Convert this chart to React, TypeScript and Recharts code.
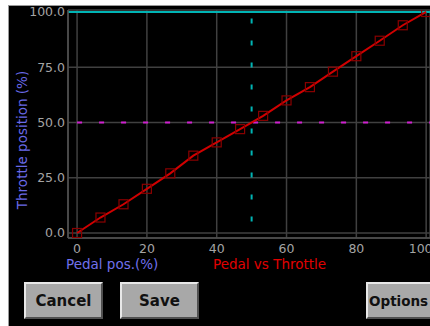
import { LineChart, Line, XAxis, YAxis, CartesianGrid, ReferenceLine } from 'recharts';

const pedal = [0, 6.7, 13.3, 20, 26.7, 33.3, 40, 46.7, 53.3, 60, 66.7, 73.3, 80, 86.7, 93.3, 100];
const throttle = [0, 7, 13, 20, 27, 35, 41, 47, 53, 60, 66, 73, 80, 87, 94, 100];
const xTicks = [0, 20, 40, 60, 80, 100];
const yTicks = [0, 25, 50, 75, 100];

const data = pedal.map((p, i) => ({ pedal: p, throttle: throttle[i] }));

const tickStyle = { fill: '#a4a4a4', fontSize: 12.5, fontFamily: 'DejaVu Sans' };

const SquareDot = (props: any) => {
  const { cx, cy } = props;
  if (cx == null || cy == null) return null;
  return <rect x={cx - 4.5} y={cy - 4.5} width={9} height={9} fill='none' stroke='#8a0000' strokeWidth={1.2} />;
};

const buttonStyle = (left: number, width: number, fontSize: number): React.CSSProperties => ({
  position: 'absolute',
  left,
  top: 282,
  width,
  height: 37,
  boxSizing: 'border-box',
  background: '#a8a8a8',
  borderTop: '2px solid #e8e8e8',
  borderLeft: '2px solid #e8e8e8',
  borderRight: '2px solid #505050',
  borderBottom: '2px solid #505050',
  color: '#111',
  fontFamily: 'DejaVu Sans',
  fontWeight: 'bold',
  fontSize,
  display: 'flex',
  alignItems: 'center',
  justifyContent: 'center',
});

const App = () => {
  return (
    <div style={{ position: 'fixed', left: 0, top: 0, width: 430, height: 326, background: '#fff', overflow: 'hidden' }}>
      <div
        style={{
          position: 'absolute',
          left: 8,
          top: 5,
          width: 422,
          height: 321,
          background: '#000',
          borderTop: '1px solid #9a9a9a',
          borderLeft: '1px solid #9a9a9a',
        }}
      />
      <div style={{ position: 'absolute', left: 0, top: 0 }}>
        <LineChart width={430} height={326} data={data} margin={{ top: 10, right: 0, left: 8, bottom: 0 }}>
          <CartesianGrid stroke='#404040' strokeWidth={1.5} verticalPoints={undefined} />
          <XAxis
            dataKey='pedal'
            type='number'
            domain={[-2.6, 101.1]}
            allowDataOverflow
            ticks={xTicks}
            height={88}
            tickSize={0}
            tickMargin={6}
            tickLine={false}
            axisLine={{ stroke: '#505050', strokeWidth: 1.5 }}
            tick={tickStyle}
          />
          <YAxis
            type='number'
            domain={[-2.26, 100.9]}
            allowDataOverflow
            ticks={yTicks}
            width={60}
            tickSize={0}
            tickMargin={3}
            tickLine={false}
            axisLine={{ stroke: '#505050', strokeWidth: 1.5 }}
            tick={tickStyle}
            tickFormatter={(v: number) => v.toFixed(1)}
          />
          <ReferenceLine y={100} stroke='#00b4b4' strokeWidth={2} />
          <ReferenceLine
            segment={[{ x: 0, y: 50 }, { x: 101.1, y: 50 }]}
            stroke='#d020d0'
            strokeWidth={2}
            strokeDasharray='5 17'
          />
          <ReferenceLine
            segment={[{ x: 50, y: 97 }, { x: 50, y: 4 }]}
            stroke='#00b4b4'
            strokeWidth={2}
            strokeDasharray='5 17'
          />
          <Line
            dataKey='throttle'
            stroke='#d00000'
            strokeWidth={2}
            dot={<SquareDot />}
            isAnimationActive={false}
          />
        </LineChart>
      </div>
      <div
        style={{
          position: 'absolute',
          left: 22,
          top: 140,
          transform: 'translate(-50%, -50%) rotate(-90deg)',
          whiteSpace: 'nowrap',
          color: '#6a6ae8',
          fontFamily: 'DejaVu Sans',
          fontSize: 13.5,
        }}
      >
        Throttle position (%)
      </div>
      <div
        style={{
          position: 'absolute',
          left: 66,
          top: 256,
          whiteSpace: 'nowrap',
          color: '#7070ec',
          fontFamily: 'DejaVu Sans',
          fontSize: 13.5,
        }}
      >
        Pedal pos.(%)
      </div>
      <div
        style={{
          position: 'absolute',
          left: 213,
          top: 256,
          whiteSpace: 'nowrap',
          color: '#e00000',
          fontFamily: 'DejaVu Sans',
          fontSize: 13.5,
        }}
      >
        Pedal vs Throttle
      </div>
      <div style={buttonStyle(24, 79, 15)}>Cancel</div>
      <div style={buttonStyle(120, 79, 15)}>Save</div>
      <div style={{ ...buttonStyle(366, 70, 13.5), justifyContent: 'flex-start', paddingLeft: 1 }}>Options</div>
    </div>
  );
};

export default App;
